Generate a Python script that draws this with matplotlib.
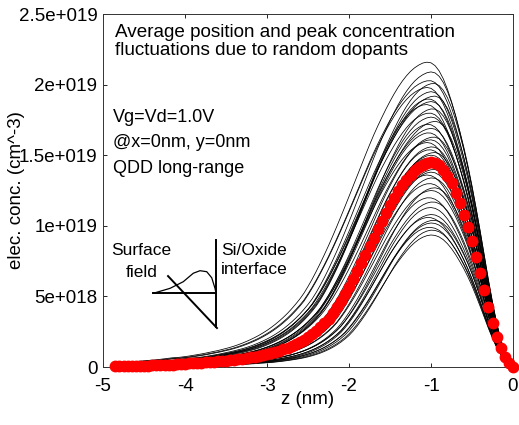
import numpy as np
import matplotlib
matplotlib.use("Agg")
import matplotlib.pyplot as plt

plt.rcParams['font.family'] = ['Liberation Sans', 'DejaVu Sans']

# depth grid (nm) and average electron concentration (1e19 cm^-3), red markers
z_nm = np.round(np.arange(-4.85, 0.001, 0.05), 2)
mean_conc = [
    0.004, 0.005, 0.005, 0.006, 0.006, 0.007, 0.008, 0.009, 0.010, 0.011,
    0.012, 0.013, 0.014, 0.016, 0.017, 0.019, 0.021, 0.023, 0.025, 0.027,
    0.029, 0.031, 0.033, 0.035, 0.038, 0.041, 0.044, 0.045, 0.048, 0.051,
    0.055, 0.059, 0.063, 0.068, 0.073, 0.078, 0.084, 0.090, 0.097, 0.105,
    0.114, 0.124, 0.135, 0.147, 0.161, 0.176, 0.193, 0.212, 0.233, 0.256,
    0.282, 0.310, 0.341, 0.380, 0.422, 0.468, 0.517, 0.568, 0.622, 0.678,
    0.736, 0.795, 0.855, 0.915, 0.975, 1.035, 1.092, 1.145, 1.195, 1.243,
    1.287, 1.327, 1.362, 1.392, 1.416, 1.433, 1.445, 1.450, 1.445, 1.428,
    1.398, 1.355, 1.300, 1.235, 1.160, 1.080, 0.990, 0.890, 0.780, 0.665,
    0.545, 0.425, 0.315, 0.215, 0.135, 0.070, 0.025, 0.000,
]

# random dopant samples: peak concentration (1e19), peak depth (nm), left width
peak_conc = [2.16, 2.09, 2.03, 2.01, 1.98, 1.95, 1.92, 1.90, 1.88, 1.86,
             1.83, 1.80, 1.77, 1.74, 1.72, 1.69, 1.66, 1.63, 1.61, 1.59,
             1.56, 1.54, 1.52, 1.50, 1.48, 1.46, 1.44, 1.42, 1.40, 1.38,
             1.36, 1.34, 1.30, 1.27, 1.25, 1.20, 1.17, 1.13, 1.08, 1.06,
             1.04, 1.02, 0.99, 0.97, 0.935]
peak_z = [-1.04, -1.00, -1.02, -0.97, -1.05, -1.00, -0.96, -1.03, -1.00, -1.06,
          -0.98, -1.02, -1.00, -0.95, -1.04, -1.00, -1.03, -0.97, -1.01, -1.05,
          -0.99, -1.02, -0.96, -1.00, -1.04, -0.98, -1.01, -1.03, -0.97, -1.00,
          -1.05, -0.99, -1.02, -0.96, -1.00, -1.03, -0.98, -1.01, -1.00, -1.04,
          -0.97, -1.00, -1.02, -0.99, -1.00]
left_width = [1.22, 1.15, 1.22, 1.12, 1.20, 1.10, 1.18, 1.08, 1.16, 1.12,
              1.05, 1.14, 1.08, 1.12, 1.02, 1.10, 1.04, 1.08, 1.00, 1.07,
              1.02, 0.98, 1.05, 1.00, 0.96, 1.03, 0.98, 0.95, 1.00, 0.94,
              0.98, 0.93, 0.96, 0.90, 0.94, 0.88, 0.91, 0.86, 0.88, 0.84,
              0.86, 0.82, 0.84, 0.80, 0.82]

# schematic inset (surface field sketch)
inset_curve_z = [-4.387, -4.183, -4.021, -3.899, -3.817, -3.735, -3.674, -3.634, -3.622]
inset_curve_c = [0.522, 0.557, 0.604, 0.664, 0.682, 0.675, 0.632, 0.557, 0.522]

yticks = [0, 0.5e19, 1e19, 1.5e19, 2e19, 2.5e19]
yticklabels = ['0', '5e+018', '1e+019', '1.5e+019', '2e+019', '2.5e+019']
xticks = [-5, -4, -3, -2, -1, 0]

fig = plt.figure(figsize=(5.19, 4.25), dpi=100)
ax = fig.add_axes([103/519, 1-367/425, 410/519, 353/425])

mean_ref = np.array(mean_conc)
for pc, pz, w in zip(peak_conc, peak_z, left_width):
    u = np.where(z_nm < pz, -1 + (z_nm - pz)/w, -1 + (z_nm - pz)/(-pz))
    c = pc/1.45 * np.interp(u, z_nm, mean_ref)
    ax.plot(z_nm, c*1e19, color='black', lw=0.55)

ax.plot(z_nm, mean_ref*1e19, 'o', color='red', mec='red', ms=7.5, clip_on=False, zorder=5)

# inset sketch
ax.plot([-3.622, -3.622], [0.28e19, 0.90e19], color='black', lw=1.4)
ax.plot([-4.39, -3.622], [0.524e19, 0.524e19], color='black', lw=1.4)
ax.plot([-4.207, -3.61], [0.644e19, 0.276e19], color='black', lw=1.4)
ax.plot(inset_curve_z, np.array(inset_curve_c)*1e19, color='black', lw=0.9)
ax.text(-4.53, 0.793e19, 'Surface', ha='center', va='baseline', fontsize=12.5)
ax.text(-4.53, 0.64e19, 'field', ha='center', va='baseline', fontsize=12.5)
ax.text(-3.56, 0.793e19, 'Si/Oxide', ha='left', va='baseline', fontsize=12.5)
ax.text(-3.56, 0.658e19, 'interface', ha='left', va='baseline', fontsize=12.5)

ax.text(-4.85, 2.337e19, 'Average position and peak concentration', va='baseline', fontsize=13.6)
ax.text(-4.85, 2.213e19, 'fluctuations due to random dopants', va='baseline', fontsize=13.6)
ax.text(-4.88, 1.735e19, 'Vg=Vd=1.0V', va='baseline', fontsize=13)
ax.text(-4.88, 1.558e19, '@x=0nm, y=0nm', va='baseline', fontsize=13)
ax.text(-4.88, 1.374e19, 'QDD long-range', va='baseline', fontsize=13)

ax.set_xlim(-5, 0)
ax.set_ylim(0, 2.5e19)
ax.set_xticks(xticks)
ax.set_xticklabels([str(t) for t in xticks])
ax.set_yticks(yticks)
ax.set_yticklabels(yticklabels)
ax.tick_params(direction='in', top=True, right=True, length=3, width=0.6,
               labelsize=13.5, pad=4)
ax.tick_params(axis='x', pad=8)
for s in ax.spines.values():
    s.set_linewidth(0.7)
    s.set_color('#333333')

ax.set_xlabel('z (nm)', fontsize=13.5)
ax.set_ylabel('elec. conc. (cm^-3)', fontsize=13.5)
ax.xaxis.set_label_coords(0.5, -0.068)
ax.yaxis.set_label_coords(-0.19, 0.5)

fig.savefig('out.png', dpi=100)
